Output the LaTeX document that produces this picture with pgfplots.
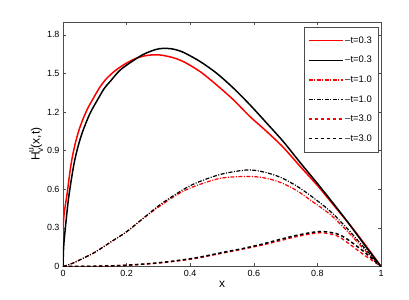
\documentclass[border=0pt]{standalone}
\usepackage{fontspec}
\setmainfont{Liberation Sans}
\usepackage{pgfplots}
\pgfplotsset{compat=1.18}
\begin{document}
\begin{tikzpicture}
\path[use as bounding box] (-63bp,-33.5bp) rectangle (346bp,266.5bp);
\begin{axis}[name=ax, at={(0,0)}, anchor=south west,
  scale only axis, width=318bp, height=244.5bp,
  xmin=0, xmax=1, ymin=0, ymax=1.9,
  xtick={0,0.2,0.4,0.6,0.8,1}, ytick={0,0.3,0.6,0.9,1.2,1.5,1.8},
  tick align=inside, tick pos=both, major tick length=3bp,
  axis line style={black!70, line width=0.5pt},
  every tick/.style={black!70, line width=0.5pt},
  /pgf/number format/assume math mode=true,
  /pgf/number format/fixed, /pgf/number format/precision=1,
  ticklabel style={font=\fontsize{9}{10}\selectfont},
  xlabel={x},
  ylabel={H\rlap{\raisebox{0.5em}{\fontsize{8.5}{9}\selectfont u}}\raisebox{-0.3em}{\fontsize{8.5}{9}\selectfont v}(x,t)},
  label style={font=\fontsize{12}{13}\selectfont},
  xlabel style={yshift=2bp},
  ylabel style={yshift=-3bp},
  legend style={at={(rel axis cs:0.9906,0.9796)}, anchor=north east, draw=black!70, fill=white, font=\fontsize{9.5}{10}\selectfont, row sep=7.5bp, inner xsep=4bp, inner ysep=7.5bp},
  legend cell align=left,
  legend image code/.code={\draw[#1] (0bp,0bp) -- (34bp,0bp);},
]
\addplot[red, line width=1.5bp, smooth] coordinates {(0,0.3) (0.004,0.42) (0.0126,0.56) (0.025,0.79) (0.037,0.94) (0.049,1.05) (0.062,1.14) (0.078,1.23) (0.096,1.31) (0.115,1.39) (0.133,1.45) (0.163,1.52) (0.196,1.575) (0.23,1.618) (0.264,1.64) (0.3,1.645) (0.34,1.627) (0.378,1.593) (0.431,1.515) (0.483,1.411) (0.536,1.295) (0.588,1.165) (0.641,1.048) (0.693,0.925) (0.745,0.78) (0.8,0.63) (0.85,0.48) (0.9,0.33) (0.95,0.17) (1,0)};
\addlegendentry{--t=0.3}
\addplot[black, line width=1.5bp, smooth] coordinates {(0,0) (0.002,0.15) (0.007,0.29) (0.018,0.54) (0.034,0.79) (0.047,0.93) (0.062,1.05) (0.085,1.19) (0.112,1.31) (0.13,1.385) (0.149,1.44) (0.177,1.52) (0.206,1.575) (0.25,1.645) (0.29,1.685) (0.315,1.695) (0.345,1.69) (0.378,1.665) (0.431,1.593) (0.483,1.502) (0.536,1.386) (0.588,1.256) (0.641,1.113) (0.693,0.97) (0.745,0.81) (0.8,0.645) (0.85,0.49) (0.9,0.33) (0.95,0.162) (1,0)};
\addlegendentry{--t=0.3}
\addplot[red, line width=1.2bp, smooth, dash pattern=on 4bp off 1.5bp on 1bp off 1.5bp] coordinates {(0,0) (0.03,0.025) (0.06,0.06) (0.1,0.11) (0.15,0.19) (0.2,0.27) (0.25,0.37) (0.305,0.47) (0.36,0.56) (0.41,0.62) (0.494,0.685) (0.578,0.70) (0.63,0.69) (0.682,0.655) (0.735,0.59) (0.787,0.50) (0.84,0.405) (0.892,0.28) (0.944,0.14) (1,0)};
\addlegendentry{--t=1.0}
\addplot[black, line width=1.2bp, smooth, dash pattern=on 4bp off 1.5bp on 1bp off 1.5bp] coordinates {(0,0) (0.03,0.025) (0.06,0.06) (0.1,0.11) (0.15,0.19) (0.2,0.27) (0.25,0.37) (0.305,0.48) (0.36,0.57) (0.41,0.64) (0.494,0.715) (0.578,0.75) (0.63,0.735) (0.682,0.695) (0.735,0.625) (0.787,0.535) (0.84,0.43) (0.892,0.30) (0.944,0.155) (1,0)};
\addlegendentry{--t=1.0}
\addplot[red, line width=1.3bp, smooth, dash pattern=on 3.5bp off 2.5bp] coordinates {(0,0) (0.1,0.002) (0.2,0.01) (0.305,0.028) (0.41,0.06) (0.514,0.11) (0.566,0.135) (0.62,0.163) (0.682,0.2) (0.74,0.235) (0.808,0.262) (0.86,0.24) (0.892,0.19) (0.944,0.095) (1,0)};
\addlegendentry{--t=3.0}
\addplot[black, line width=1.5bp, smooth, dash pattern=on 3.5bp off 2.5bp] coordinates {(0,0) (0.1,0.002) (0.2,0.01) (0.305,0.03) (0.41,0.064) (0.514,0.115) (0.566,0.14) (0.62,0.17) (0.682,0.21) (0.74,0.245) (0.808,0.272) (0.86,0.255) (0.892,0.215) (0.944,0.12) (1,0)};
\addlegendentry{--t=3.0}
\end{axis}
\end{tikzpicture}
\end{document}
